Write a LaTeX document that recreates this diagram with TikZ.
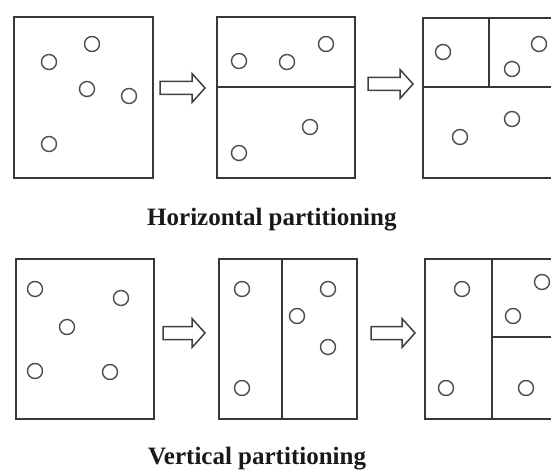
\documentclass[tikz,border=0pt]{standalone}
\usepackage{fontspec}
\setmainfont{Liberation Serif}
\begin{document}
\begin{tikzpicture}[x=1pt,y=-1pt,
  frame/.style={draw=black!78, line width=1.7pt, inner sep=0pt, anchor=north west},
  split/.style={draw=black!78, line width=1.7pt},
  dot/.style={circle, draw=black!70, line width=1.4pt, minimum size=15pt, inner sep=0pt},
  blockarrow/.style={draw=black!75, line width=1.5pt, fill=white, line join=miter},
  caption/.style={anchor=base west, inner sep=0pt, text=black!90, font=\bfseries\fontsize{25}{30}\selectfont}]
\useasboundingbox (0,0) rectangle (551,470);
\clip (0,0) rectangle (551,470);

% a hollow block arrow from x=#1 to x=#2 on the line y=#3
\newcommand{\hollowarrow}[3]{%
  \draw[blockarrow] (#1,#3-6.5) -- (#2-13,#3-6.5) -- (#2-13,#3-14.5) -- (#2,#3)
    -- (#2-13,#3+14.5) -- (#2-13,#3+6.5) -- (#1,#3+6.5) -- cycle;}

% ---------- horizontal partitioning ----------
\node[frame, minimum width=139pt, minimum height=161pt] (h1) at (13,16) {};
\node[dot] (h1a) at (49,62) {};
\node[dot] (h1b) at (92,44) {};
\node[dot] (h1c) at (87,89) {};
\node[dot] (h1d) at (129,96) {};
\node[dot] (h1e) at (49,144) {};

\hollowarrow{160}{205}{88}

\node[frame, minimum width=138pt, minimum height=161pt] (h2) at (216,16) {};
\draw[split] (h2.west |- 0,87) -- (h2.east |- 0,87);
\node[dot] (h2a) at (239,61) {};
\node[dot] (h2b) at (287,62) {};
\node[dot] (h2c) at (326,44) {};
\node[dot] (h2d) at (310,127) {};
\node[dot] (h2e) at (239,153) {};

\hollowarrow{368}{413}{84}

\node[frame, minimum width=160pt, minimum height=160pt] (h3) at (422,17) {};
\draw[split] (h3.west |- 0,87) -- (h3.east |- 0,87);
\draw[split] (489,17) -- (489,87);
\node[dot] (h3a) at (443,52) {};
\node[dot] (h3b) at (539,44) {};
\node[dot] (h3c) at (512,69) {};
\node[dot] (h3d) at (512,119) {};
\node[dot] (h3e) at (460,137) {};

\node[caption] (hcap) at (147,226) {Horizontal partitioning};

% ---------- vertical partitioning ----------
\node[frame, minimum width=138pt, minimum height=160pt] (v1) at (15,258) {};
\node[dot] (v1a) at (35,289) {};
\node[dot] (v1b) at (121,298) {};
\node[dot] (v1c) at (67,327) {};
\node[dot] (v1d) at (35,371) {};
\node[dot] (v1e) at (110,372) {};

\hollowarrow{163}{205}{333}

\node[frame, minimum width=138pt, minimum height=160pt] (v2) at (218,258) {};
\draw[split] (282,258) -- (282,418);
\node[dot] (v2a) at (242,289) {};
\node[dot] (v2b) at (328,289) {};
\node[dot] (v2c) at (297,316) {};
\node[dot] (v2d) at (328,347) {};
\node[dot] (v2e) at (242,388) {};

\hollowarrow{371}{415}{333}

\node[frame, minimum width=160pt, minimum height=160pt] (v3) at (424,258) {};
\draw[split] (492,258) -- (492,418);
\draw[split] (492,337) -- (v3.east |- 0,337);
\node[dot] (v3a) at (462,289) {};
\node[dot] (v3b) at (542,282) {};
\node[dot] (v3c) at (513,316) {};
\node[dot] (v3d) at (446,388) {};
\node[dot] (v3e) at (526,388) {};

\node[caption] (vcap) at (148,464) {Vertical partitioning};
\end{tikzpicture}
\end{document}
